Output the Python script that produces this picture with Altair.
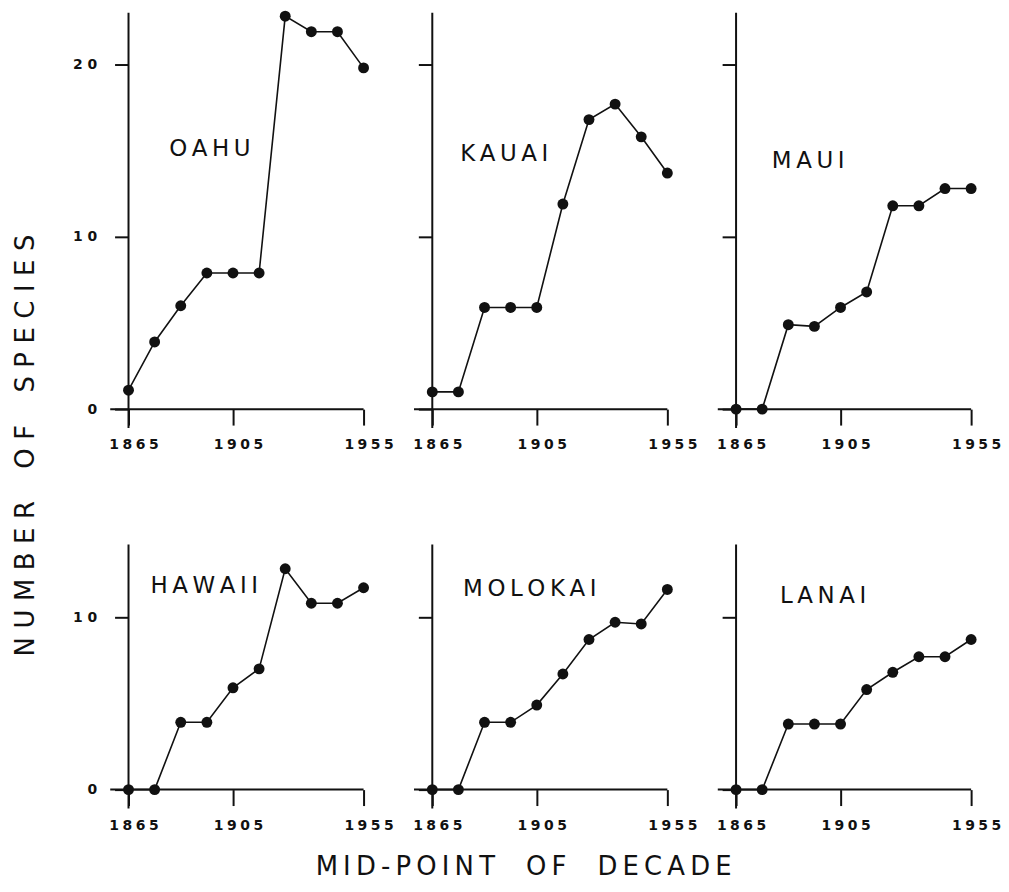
import altair as alt
import pandas as pd

# ---- data ----
years = [1865, 1875, 1885, 1895, 1905, 1915, 1925, 1935, 1945, 1955]
islands = ["OAHU", "KAUAI", "MAUI", "HAWAII", "MOLOKAI", "LANAI"]
oahu = [1.1, 3.9, 6.0, 7.9, 7.9, 7.9, 22.8, 21.9, 21.9, 19.8]
kauai = [1.0, 1.0, 5.9, 5.9, 5.9, 11.9, 16.8, 17.7, 15.8, 13.7]
maui = [0, 0, 4.9, 4.8, 5.9, 6.8, 11.8, 11.8, 12.8, 12.8]
hawaii = [0, 0, 3.9, 3.9, 5.9, 7.0, 12.8, 10.8, 10.8, 11.7]
molokai = [0, 0, 3.9, 3.9, 4.9, 6.7, 8.7, 9.7, 9.6, 11.6]
lanai = [0, 0, 3.8, 3.8, 3.8, 5.8, 6.8, 7.7, 7.7, 8.7]
x_tick_values = [1865, 1905, 1955]
top_y_ticks = [0, 10, 20]
bottom_y_ticks = [0, 10]
y_title = "NUMBER OF SPECIES"
x_title = "MID-POINT OF DECADE"

INK = "#111111"
FONT = "DejaVu Sans"
W = 236
PX_PER_UNIT = 17.3
TOP_MAX = 23.0
BOT_MAX = 14.2


def spaced(text, letter_sep, word_sep):
    return word_sep.join(letter_sep.join(w) for w in text.split(" "))


def panel(name, values, ymax, yticks, show_labels, label_pos):
    xscale = alt.Scale(domain=[years[0], years[-1]], nice=False, zero=False)
    yscale = alt.Scale(domain=[0, ymax], nice=False, zero=False)
    xaxis = alt.Axis(
        values=x_tick_values, domain=False, grid=False, title=None,
        tickSize=16, tickWidth=2, tickColor=INK,
        labelExpr="join(split(toString(datum.value), ''), '\u2005')",
        labelFont=FONT, labelFontWeight="bold", labelFontSize=14,
        labelColor=INK, labelPadding=13, labelOffset=5,
        labelFlush=False, labelOverlap=False,
    )
    yaxis = alt.Axis(
        values=yticks, domain=False, grid=False, title=None,
        tickSize=14, tickWidth=2, tickColor=INK,
        labelExpr="join(split(toString(datum.value), ''), ' ')",
        labelFont=FONT, labelFontWeight="bold", labelFontSize=14,
        labelColor=INK, labelPadding=18, labelOpacity=1 if show_labels else 0,
        labelOverlap=False,
    )

    def X(f):
        return alt.X(f"{f}:Q", scale=xscale, axis=xaxis)

    def Y(f):
        return alt.Y(f"{f}:Q", scale=yscale, axis=yaxis)

    df = pd.DataFrame({"year": years, "n": values})
    xline_df = pd.DataFrame({"year": [years[0] - 7], "year2": [years[-1]], "n": [0]})
    yline_df = pd.DataFrame({"year": [years[0]], "n": [-1.1], "n2": [ymax]})
    lab_df = pd.DataFrame({"year": [label_pos[0]], "n": [label_pos[1]],
                           "label": [spaced(name, "\u2009", " ")]})

    xline = alt.Chart(xline_df).mark_rule(color=INK, strokeWidth=2).encode(
        x=X("year"), x2="year2", y=Y("n"))
    yline = alt.Chart(yline_df).mark_rule(color=INK, strokeWidth=2).encode(
        x=X("year"), y=Y("n"), y2="n2")
    line = alt.Chart(df).mark_line(color=INK, strokeWidth=1.6).encode(
        x=X("year"), y=Y("n"))
    pts = alt.Chart(df).mark_circle(color=INK, size=120, opacity=1).encode(
        x=X("year"), y=Y("n"))
    txt = alt.Chart(lab_df).mark_text(
        align="left", baseline="middle", font=FONT, fontSize=23, color=INK
    ).encode(x=X("year"), y=Y("n"), text="label:N")

    return alt.layer(xline, yline, line, pts, txt).properties(
        width=W, height=round(ymax * PX_PER_UNIT))


top = alt.hconcat(
    panel(islands[0], oahu, TOP_MAX, top_y_ticks, True, (1880.6, 15.1)),
    panel(islands[1], kauai, TOP_MAX, top_y_ticks, False, (1875.7, 14.8)),
    panel(islands[2], maui, TOP_MAX, top_y_ticks, False, (1878.7, 14.4)),
    spacing=69, bounds="flush",
)
bottom = alt.hconcat(
    panel(islands[3], hawaii, BOT_MAX, bottom_y_ticks, True, (1873.4, 11.8)),
    panel(islands[4], molokai, BOT_MAX, bottom_y_ticks, False, (1876.8, 11.6)),
    panel(islands[5], lanai, BOT_MAX, bottom_y_ticks, False, (1881.8, 11.2)),
    spacing=69, bounds="flush",
)

inner = alt.vconcat(
    top, bottom, spacing=92,
    title=alt.TitleParams(
        text=spaced(x_title, "\u2009", "\u2003\u2009"), orient="bottom",
        anchor="middle", font=FONT, fontSize=26, fontWeight="normal",
        color=INK, offset=22, dx=-13,
    ),
)

chart = alt.hconcat(
    inner,
    title=alt.TitleParams(
        text=spaced(y_title, "\u2004", "\u2003\u2005"), orient="left",
        anchor="middle", font=FONT, fontSize=26, fontWeight="normal",
        color=INK, offset=34,
    ),
).properties(
    padding={"left": 4, "top": 0, "right": 0, "bottom": 0},
    background="white",
).configure_view(strokeWidth=0)

chart.save("out.html", embed_options={"renderer": "svg", "actions": False})
